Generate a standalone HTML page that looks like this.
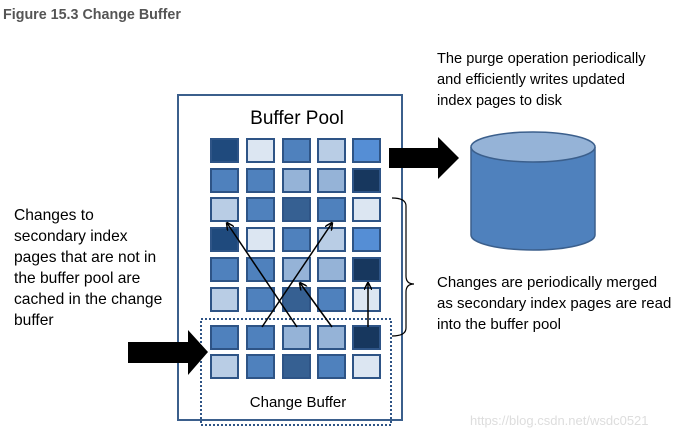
<!DOCTYPE html>
<html><head><style>
body{margin:0;background:#fff;width:690px;height:437px;overflow:hidden}
</style></head><body>
<svg width="690" height="437" xmlns="http://www.w3.org/2000/svg" font-family="Liberation Sans, sans-serif">
<text x="3" y="19" font-size="14.3" font-weight="bold" fill="#555">Figure 15.3 Change Buffer</text>
<rect x="178" y="95" width="224" height="325" fill="#fff" stroke="#3b5f8c" stroke-width="2"/>
<text x="297" y="124" font-size="19" text-anchor="middle" fill="#000">Buffer Pool</text>
<g stroke="#2e5486" stroke-width="2">
<rect x="211" y="139" width="27" height="23" fill="#1f4a7d"/>
<rect x="247" y="139" width="27" height="23" fill="#dce6f2"/>
<rect x="283" y="139" width="27" height="23" fill="#4f81bd"/>
<rect x="318" y="139" width="27" height="23" fill="#b9cde5"/>
<rect x="353" y="139" width="27" height="23" fill="#558ed5"/>
<rect x="211" y="169" width="27" height="23" fill="#4f81bd"/>
<rect x="247" y="169" width="27" height="23" fill="#4f81bd"/>
<rect x="283" y="169" width="27" height="23" fill="#95b3d7"/>
<rect x="318" y="169" width="27" height="23" fill="#95b3d7"/>
<rect x="353" y="169" width="27" height="23" fill="#17375e"/>
<rect x="211" y="198" width="27" height="23" fill="#b9cde5"/>
<rect x="247" y="198" width="27" height="23" fill="#4f81bd"/>
<rect x="283" y="198" width="27" height="23" fill="#366092"/>
<rect x="318" y="198" width="27" height="23" fill="#4f81bd"/>
<rect x="353" y="198" width="27" height="23" fill="#dce6f2"/>
<rect x="211" y="228" width="27" height="23" fill="#1f4a7d"/>
<rect x="247" y="228" width="27" height="23" fill="#dce6f2"/>
<rect x="283" y="228" width="27" height="23" fill="#4f81bd"/>
<rect x="318" y="228" width="27" height="23" fill="#b9cde5"/>
<rect x="353" y="228" width="27" height="23" fill="#558ed5"/>
<rect x="211" y="258" width="27" height="23" fill="#4f81bd"/>
<rect x="247" y="258" width="27" height="23" fill="#4f81bd"/>
<rect x="283" y="258" width="27" height="23" fill="#95b3d7"/>
<rect x="318" y="258" width="27" height="23" fill="#95b3d7"/>
<rect x="353" y="258" width="27" height="23" fill="#17375e"/>
<rect x="211" y="288" width="27" height="23" fill="#b9cde5"/>
<rect x="247" y="288" width="27" height="23" fill="#4f81bd"/>
<rect x="283" y="288" width="27" height="23" fill="#366092"/>
<rect x="318" y="288" width="27" height="23" fill="#4f81bd"/>
<rect x="353" y="288" width="27" height="23" fill="#dce6f2"/>
<rect x="211" y="326" width="27" height="23" fill="#4f81bd"/>
<rect x="247" y="326" width="27" height="23" fill="#4f81bd"/>
<rect x="283" y="326" width="27" height="23" fill="#95b3d7"/>
<rect x="318" y="326" width="27" height="23" fill="#95b3d7"/>
<rect x="353" y="326" width="27" height="23" fill="#17375e"/>
<rect x="211" y="355" width="27" height="23" fill="#b9cde5"/>
<rect x="247" y="355" width="27" height="23" fill="#4f81bd"/>
<rect x="283" y="355" width="27" height="23" fill="#366092"/>
<rect x="318" y="355" width="27" height="23" fill="#4f81bd"/>
<rect x="353" y="355" width="27" height="23" fill="#dce6f2"/>
</g>
<rect x="201" y="319" width="190" height="106" fill="none" stroke="#2e5486" stroke-width="2" stroke-dasharray="2,2"/>
<text x="298" y="407" font-size="15" text-anchor="middle" fill="#000">Change Buffer</text>
<defs><marker id="a" markerWidth="8" markerHeight="8" refX="7" refY="4" orient="auto" markerUnits="userSpaceOnUse"><path d="M0,0 L8,4 L0,8" fill="none" stroke="#000" stroke-width="1.5"/></marker></defs>
<g stroke="#000" stroke-width="1.5" marker-end="url(#a)">
<line x1="262" y1="327" x2="332" y2="223"/>
<line x1="297" y1="327" x2="227" y2="223"/>
<line x1="332" y1="327" x2="300" y2="283"/>
<line x1="368" y1="327" x2="368" y2="283"/>
</g>
<path d="M392,198 Q406,198 406,206 L406,276 Q406,284 414,284 Q406,284 406,292 L406,328 Q406,336 392,336" fill="none" stroke="#000" stroke-width="1.2"/>
<polygon points="389,148 438,148 438,137 459,158 438,179 438,168 389,168" fill="#000"/>
<polygon points="128,342 188,342 188,330 208,352 188,375 188,363 128,363" fill="#000"/>
<path d="M471,147 L471,235 A62,15 0 0 0 595,235 L595,147" fill="#4f81bd" stroke="#3b5f8c" stroke-width="1.5"/>
<ellipse cx="533" cy="147" rx="62" ry="15" fill="#95b3d7" stroke="#3b5f8c" stroke-width="1.5"/>
<g font-size="14.6" fill="#000">
<text x="437" y="63">The purge operation periodically</text>
<text x="437" y="84">and efficiently writes updated</text>
<text x="437" y="105">index pages to disk</text>
</g>
<g font-size="15.6" fill="#000">
<text x="14" y="220">Changes to</text>
<text x="14" y="241">secondary index</text>
<text x="14" y="262">pages that are not in</text>
<text x="14" y="283">the buffer pool are</text>
<text x="14" y="304">cached in the change</text>
<text x="14" y="325">buffer</text>
</g>
<g font-size="15" fill="#000">
<text x="437" y="287">Changes are periodically merged</text>
<text x="437" y="308">as secondary index pages are read</text>
<text x="437" y="329">into the buffer pool</text>
</g>
<text x="470" y="425" font-size="13" fill="#ddd">https://blog.csdn.net/wsdc0521</text>
</svg>
</body></html>
